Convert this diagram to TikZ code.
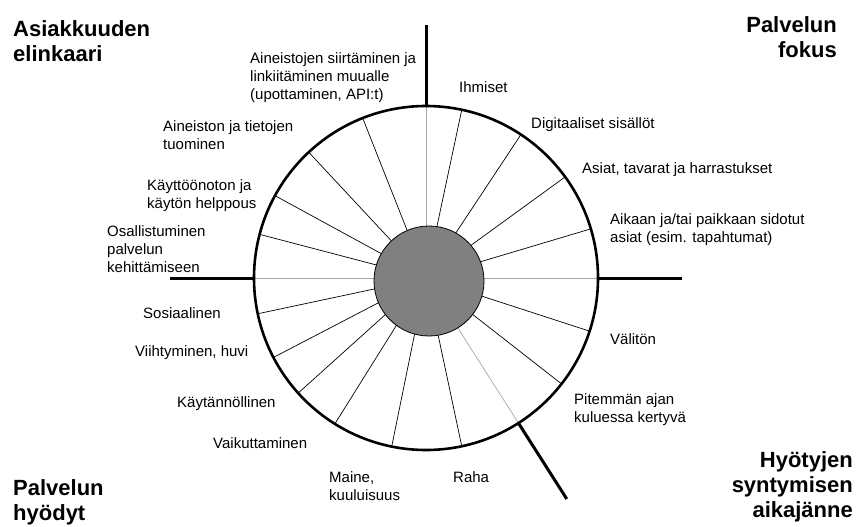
\documentclass[tikz,border=0pt]{standalone}
\usepackage{fontspec}
\setmainfont{Liberation Sans}
\newcommand{\lbl}{\fontsize{15}{18}\selectfont}
\newcommand{\ttl}{\fontsize{22}{25}\selectfont\bfseries}
\begin{document}
\begin{tikzpicture}[x=1pt,y=1pt,every node/.style={font=\lbl,inner sep=0pt,align=left,anchor=west},
  rim/.style={line width=2.6pt},
  axisline/.style={line width=3pt},
  spoke/.style={line width=0.7pt},
  grayspoke/.style={line width=0.7pt,black!35},
  title/.style={font=\ttl}]
\useasboundingbox (0,0) rectangle (859,-527);
\coordinate (c) at (426,-278);
% spokes
\foreach \a in {78,56.5,36,16.6,-18,-38,-78,-101.5,-122,-138,-152.5,-168,165.3,151.4,133,111.6}
  \draw[spoke] ([shift={(\a:45)}]c) -- ([shift={(\a:172)}]c);
\foreach \a in {90,0,180,-57.5}
  \draw[grayspoke] ([shift={(\a:45)}]c) -- ([shift={(\a:172)}]c);
\filldraw[fill=black!50,line width=0.8pt] (429,-281) circle (55);
\draw[rim] (c) circle (172);
% axes
\draw[axisline] ([shift={(90:172)}]c) -- ([shift={(90:253)}]c);
\draw[axisline] ([shift={(180:172)}]c) -- ([shift={(180:256)}]c);
\draw[axisline] ([shift={(0:172)}]c) -- ([shift={(0:256)}]c);
\draw[axisline] ([shift={(-57.5:172)}]c) -- ([shift={(-57.5:262)}]c);
% titles
\node[title] (elinkaari) at (13,-41) {Asiakkuuden\\elinkaari};
\node[title,anchor=east,align=right] (fokus) at (837,-37) {Palvelun\\fokus};
\node[title] (hyodyt) at (13,-502) {Palvelun\\hyödyt};
\node[title,anchor=east,align=right] (aikajanne) at (853,-487) {Hyötyjen\\syntymisen\\aikajänne};
% labels
\node (siirto) at (250,-78) {Aineistojen siirtäminen ja\\linkiitäminen muualle\\(upottaminen, API:t)};
\node (tuonti) at (163,-135) {Aineiston ja tietojen\\tuominen};
\node (helppous) at (147,-196) {Käyttöönoton ja\\käytön helppous};
\node (osallistuminen) at (107,-249) {Osallistuminen\\palvelun\\kehittämiseen};
\node (ihmiset) at (459,-87) {Ihmiset};
\node (digi) at (531,-125) {Digitaaliset sisällöt};
\node (asiat) at (582,-170) {Asiat, tavarat ja harrastukset};
\node (aikaan) at (610,-230) {Aikaan ja/tai paikkaan sidotut\\asiat (esim. tapahtumat)};
\node (sosiaalinen) at (143,-313) {Sosiaalinen};
\node (viihde) at (135,-353) {Viihtyminen, huvi};
\node (kaytto) at (177,-404) {Käytännöllinen};
\node (vaikutus) at (213,-443) {Vaikuttaminen};
\node (maine) at (329,-486) {Maine,\\kuuluisuus};
\node (raha) at (453,-477) {Raha};
\node (valiton) at (610,-339) {Välitön};
\node (pitempi) at (574,-410) {Pitemmän ajan\\kuluessa kertyvä};
\end{tikzpicture}
\end{document}
